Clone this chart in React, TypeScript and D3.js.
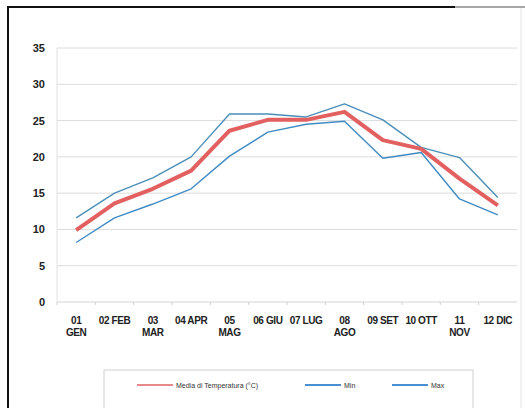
import React, { useEffect } from 'react';
import * as d3 from 'd3';

const months = ['01 GEN', '02 FEB', '03 MAR', '04 APR', '05 MAG', '06 GIU', '07 LUG', '08 AGO', '09 SET', '10 OTT', '11 NOV', '12 DIC'];
// labels that Excel broke onto two lines
const wrapped = ['01 GEN', '03 MAR', '05 MAG', '08 AGO', '11 NOV'];

const meanTemp = [9.9, 13.6, 15.6, 18.1, 23.6, 25.1, 25.1, 26.2, 22.3, 21.1, 17.0, 13.3];
const minTemp = [8.2, 11.6, 13.5, 15.6, 20.1, 23.4, 24.5, 24.9, 19.8, 20.6, 14.2, 12.0];
const maxTemp = [11.6, 15.0, 17.1, 20.0, 25.9, 25.9, 25.5, 27.3, 25.1, 21.3, 19.9, 14.4];

const yTicks = [0, 5, 10, 15, 20, 25, 30, 35];

const W = 525;
const H = 408;
const margin = { top: 48, right: 8, bottom: 106, left: 57 };

const font = '"Liberation Sans", Arial, sans-serif';

export default function App() {
    useEffect(() => {
        document.body.style.margin = '0';
    }, []);

    const x = d3
        .scaleBand<string>()
        .domain(months)
        .range([margin.left, W - margin.right])
        .padding(0);
    const y = d3.scaleLinear().domain([0, 35]).range([H - margin.bottom, margin.top]);
    const cx = (m: string) => x(m)! + x.bandwidth() / 2;

    const line = d3
        .line<number>()
        .x((_, i) => cx(months[i]))
        .y((d) => y(d));

    const series = [
        { name: 'Max', values: maxTemp, color: '#4a8fb8', width: 1.4 },
        { name: 'Min', values: minTemp, color: '#3f8bc4', width: 1.4 },
        { name: 'Media di Temperatura (°C)', values: meanTemp, color: '#e2605f', width: 4 },
    ];

    const legend = [
        { name: 'Media di Temperatura (°C)', color: '#e88a8c', x: 137 },
        { name: 'Min', color: '#4a8fcf', x: 305 },
        { name: 'Max', color: '#4a8fcf', x: 392 },
    ];

    const x0 = margin.left;
    const x1 = W - margin.right;

    return (
        <svg width={W} height={H} style={{ display: 'block', fontFamily: font }}>
            <rect x={0} y={0} width={W} height={H} fill="#fff" />
            {/* scanned frame */}
            <line x1={8} y1={7} x2={455} y2={7} stroke="#111" strokeWidth={2} />
            <line x1={455} y1={7} x2={525} y2={7} stroke="#888" strokeWidth={1.5} />
            <line x1={8} y1={6} x2={8} y2={H} stroke="#111" strokeWidth={2} />
            <line x1={521} y1={8} x2={521} y2={H} stroke="#e4e4e4" strokeWidth={1} />

            {/* gridlines */}
            {yTicks.map((t) => (
                <line key={t} x1={x0} x2={x1} y1={y(t)} y2={y(t)} stroke={t === 0 ? '#d4d4d4' : '#dcdcdc'} strokeWidth={1} />
            ))}
            <line x1={x0} x2={x0} y1={y(35)} y2={y(0)} stroke="#e0e0e0" />
            {months.map((m) => (
                <line key={m} x1={x(m)!} x2={x(m)!} y1={y(0)} y2={y(0) + 3} stroke="#d0d0d0" />
            ))}

            {/* y tick labels */}
            {yTicks.map((t) => (
                <text key={t} x={45} y={y(t) + 4} textAnchor="end" fontSize={11} fontWeight="bold" fill="#222">
                    {t}
                </text>
            ))}

            {/* x tick labels */}
            {months.map((m) => {
                const parts = wrapped.includes(m) ? m.split(' ') : [m];
                return (
                    <text key={m} x={cx(m)} y={y(0) + 22} textAnchor="middle" fontSize={10} fontWeight="bold" fill="#222" letterSpacing={-0.4}>
                        {parts.map((p, i) => (
                            <tspan key={i} x={cx(m)} dy={i === 0 ? 0 : 12}>
                                {p}
                            </tspan>
                        ))}
                    </text>
                );
            })}

            {/* series */}
            {series.map((s) => (
                <path key={s.name} d={line(s.values)!} fill="none" stroke={s.color} strokeWidth={s.width} strokeLinejoin="round" />
            ))}

            {/* legend */}
            <rect x={104} y={370} width={369} height={50} fill="#fff" stroke="#cfcfcf" />
            {legend.map((l) => (
                <g key={l.name}>
                    <line x1={l.x} x2={l.x + 36} y1={385} y2={385} stroke={l.color} strokeWidth={2} />
                    <text x={l.x + 39} y={388} fontSize={7} fill="#333">
                        {l.name}
                    </text>
                </g>
            ))}
        </svg>
    );
}
